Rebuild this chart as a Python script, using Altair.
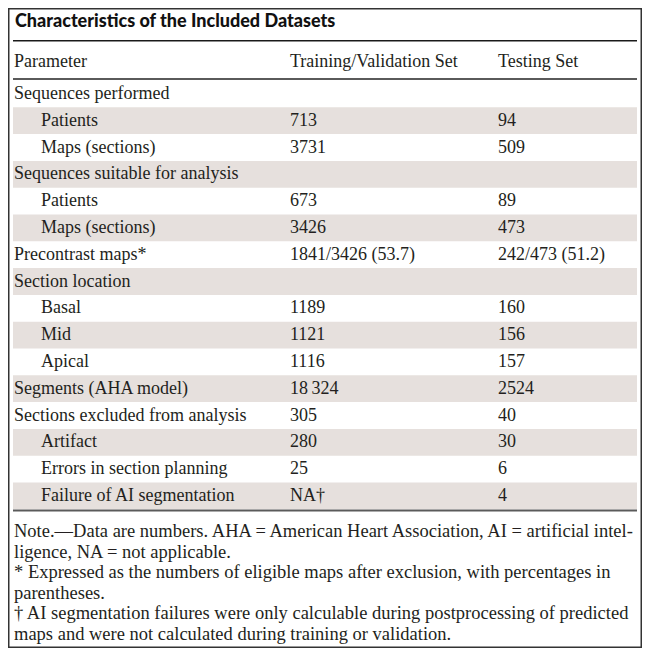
import altair as alt
import pandas as pd

title_text = "Characteristics of the Included Datasets"
headers = ["Parameter", "Training/Validation Set", "Testing Set"]
parameters = [
    "Sequences performed", "Patients", "Maps (sections)",
    "Sequences suitable for analysis", "Patients", "Maps (sections)",
    "Precontrast maps*", "Section location", "Basal", "Mid", "Apical",
    "Segments (AHA model)", "Sections excluded from analysis", "Artifact",
    "Errors in section planning", "Failure of AI segmentation",
]
levels = [0, 1, 1, 0, 1, 1, 0, 0, 1, 1, 1, 0, 0, 1, 1, 1]
training = ["", "713", "3731", "", "673", "3426", "1841/3426 (53.7)", "",
            "1189", "1121", "1116", "18\u2009324", "305", "280", "25", "NA\u2020"]
testing = ["", "94", "509", "", "89", "473", "242/473 (51.2)", "",
           "160", "156", "157", "2524", "40", "30", "6", "4"]
notes = [
    "Note.\u2014Data are numbers. AHA = American Heart Association, AI = artificial intel-",
    "ligence, NA = not applicable.",
    "* Expressed as the numbers of eligible maps after exclusion, with percentages in",
    "parentheses.",
    "\u2020 AI segmentation failures were only calculable during postprocessing of predicted",
    "maps and were not calculated during training or validation.",
]

df = pd.DataFrame({
    "row": list(range(len(parameters))),
    "param": parameters,
    "level": levels,
    "train": training,
    "test": testing,
})

SERIF = "Liberation Serif"
TXT = "#231f20"
n = len(parameters)
yscale = alt.Scale(domain=[0, n], range=[72.5, 501.3])

base = alt.Chart(df)

shade = base.mark_rect(color="#e6e0dd").transform_filter(
    "datum.row % 2 == 1"
).transform_calculate(
    row_end="datum.row + 1"
).encode(
    x=alt.value(5), x2=alt.value(629),
    y=alt.Y("row:Q", scale=yscale, axis=None),
    y2="row_end:Q",
)

def col_text(field, xpix, flt=None):
    c = base.mark_text(align="left", baseline="middle", font=SERIF,
                       fontSize=18, color=TXT)
    if flt:
        c = c.transform_filter(flt)
    return c.transform_calculate(mid="datum.row + 0.5").encode(
        x=alt.value(xpix),
        y=alt.Y("mid:Q", scale=yscale, axis=None),
        text=f"{field}:N",
    )

p0 = col_text("param", 6, "datum.level == 0")
p1 = col_text("param", 33, "datum.level == 1")
ctrain = col_text("train", 282)
ctest = col_text("test", 490)

title = alt.Chart(pd.DataFrame({"t": [title_text]})).mark_text(
    align="left", baseline="middle", font="Lato", fontWeight=900,
    fontSize=18, color="#111111"
).encode(x=alt.value(7), y=alt.value(14), text="t:N")

hdr_df = pd.DataFrame({"h": headers, "i": [0, 1, 2]})
hdr_layers = []
for i, xp in zip(range(3), [6, 282, 490]):
    hdr_layers.append(
        alt.Chart(hdr_df).transform_filter(f"datum.i == {i}").mark_text(
            align="left", baseline="middle", font=SERIF, fontSize=18, color=TXT
        ).encode(x=alt.value(xp), y=alt.value(54), text="h:N")
    )

rule_df = pd.DataFrame({"k": [0]})
rule_title = alt.Chart(rule_df).mark_rule(color="#1a1a1a", strokeWidth=1.5).encode(
    x=alt.value(5), x2=alt.value(629), y=alt.value(32.7))
rule_head = alt.Chart(rule_df).mark_rule(color="#5a5a5a", strokeWidth=2).encode(
    x=alt.value(5), x2=alt.value(629), y=alt.value(71))
rule_bottom = alt.Chart(rule_df).mark_rule(color="#5a5a5a", strokeWidth=2).encode(
    x=alt.value(5), x2=alt.value(629), y=alt.value(502.5))

note_text = alt.Chart(rule_df).mark_text(
    align="left", baseline="middle", font=SERIF, fontSize=18.5, color=TXT,
    lineHeight=20.5
).encode(x=alt.value(6), y=alt.value(523), text=alt.value(notes))

border = alt.Chart(rule_df).mark_rect(
    fillOpacity=0, stroke="#333333", strokeWidth=1.5
).encode(x=alt.value(0.75), x2=alt.value(633.25), y=alt.value(0.75), y2=alt.value(639.25))

chart = alt.layer(
    shade, p0, p1, ctrain, ctest, title, *hdr_layers,
    rule_title, rule_head, rule_bottom, note_text, border
).properties(
    width=634, height=640,
    autosize=alt.AutoSizeParams(type="none"), padding=0,
).configure_view(stroke=None)

chart.save("out.html", embed_options={"renderer": "svg", "actions": False})
